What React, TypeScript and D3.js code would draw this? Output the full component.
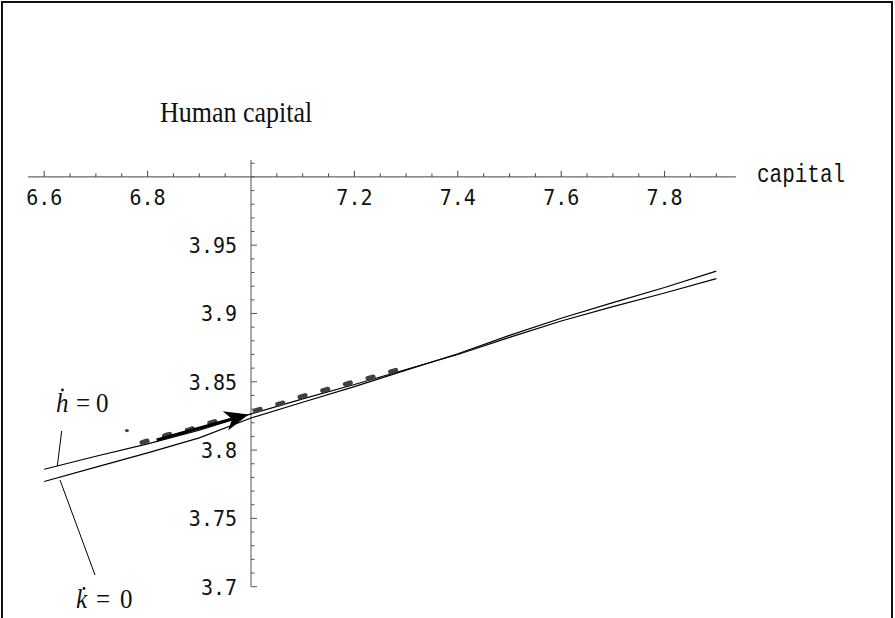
import React from "react";
import * as d3 from "d3";

// h-dot = 0 nullcline (capital, human capital)
const hNullK = [6.6, 6.7, 6.8, 6.9, 7.0, 7.1, 7.2, 7.3, 7.4, 7.5, 7.6, 7.7, 7.8, 7.9];
const hNullH = [3.786, 3.7955, 3.8045, 3.8145, 3.8265, 3.8375, 3.848, 3.859, 3.87, 3.8825, 3.8945, 3.905, 3.915, 3.9255];
// k-dot = 0 nullcline
const kNullK = [6.6, 6.7, 6.8, 6.9, 7.0, 7.1, 7.2, 7.3, 7.4, 7.5, 7.6, 7.7, 7.8, 7.9];
const kNullH = [3.777, 3.7875, 3.798, 3.809, 3.8235, 3.835, 3.8465, 3.8585, 3.8705, 3.884, 3.8965, 3.908, 3.919, 3.931];
// saddle path (dashed)
const pathK = [6.789, 6.8375, 6.88, 6.9265, 7.0135, 7.0594, 7.1012, 7.1431, 7.1882, 7.2335, 7.285];
const pathH = [3.8056, 3.8111, 3.8149, 3.8206, 3.8294, 3.8343, 3.8396, 3.844, 3.8489, 3.8533, 3.859];
// arrow
const arrowK = [6.8176, 6.9952];
const arrowH = [3.8074, 3.8261];
// stray point
const strayK = [6.76];
const strayH = [3.8143];

const xTickValues = [6.6, 6.8, 7.2, 7.4, 7.6, 7.8];
const xTickLabels = ["6.6", "6.8", "7.2", "7.4", "7.6", "7.8"];
const yTickValues = [3.7, 3.75, 3.8, 3.85, 3.9, 3.95];
const yTickLabels = ["3.7", "3.75", "3.8", "3.85", "3.9", "3.95"];

export default function App() {
  const W = 895;
  const H = 618;
  const x = d3.scaleLinear().domain([7.0, 7.8]).range([251, 664.6]);
  const y = d3.scaleLinear().domain([3.7, 4.0]).range([586.7, 176.9]);
  const axisY = y(4.0);
  const axisX = x(7.0);
  const xMin = 6.5687, xMax = 7.938;
  const yMin = 3.7, yMax = 4.0124;

  const line = d3
    .line<[number, number]>()
    .x((d) => x(d[0]))
    .y((d) => y(d[1]));

  const hPts = hNullK.map((k, i) => [k, hNullH[i]] as [number, number]);
  const kPts = kNullK.map((k, i) => [k, kNullH[i]] as [number, number]);
  const pPts = pathK.map((k, i) => [k, pathH[i]] as [number, number]);

  const xMinor = d3.range(6.6, 7.9001, 0.05).filter(
    (v) => !xTickValues.some((t) => Math.abs(t - v) < 1e-6) && Math.abs(v - 7) > 1e-6
  );
  const yMinor = d3.range(3.7, 4.0101, 0.01).filter(
    (v) => !yTickValues.some((t) => Math.abs(t - v) < 1e-6)
  );

  // arrow geometry
  const ax0 = x(arrowK[0]), ay0 = y(arrowH[0]);
  const ax1 = x(arrowK[1]), ay1 = y(arrowH[1]);
  const dx = ax1 - ax0, dy = ay1 - ay0;
  const len = Math.hypot(dx, dy);
  const ux = dx / len, uy = dy / len;
  const px = -uy, py = ux;
  const headLen = 24, headW = 10, notch = 17;
  const bx = ax1 - headLen * ux, by = ay1 - headLen * uy;
  const nx = ax1 - notch * ux, ny = ay1 - notch * uy;
  const head = [
    [ax1, ay1],
    [bx + headW * px, by + headW * py],
    [nx, ny],
    [bx - headW * px, by - headW * py],
  ]
    .map((p) => p.join(","))
    .join(" ");

  const monoFont = "'DejaVu Sans Mono', monospace";
  const serif = "'Liberation Serif', 'Times New Roman', serif";

  const St = (props: { x: number; y: number; sy: number; children: React.ReactNode; [k: string]: any }) => {
    const { x: tx, y: ty, sy, children, ...rest } = props;
    return (
      <text transform={`translate(${tx},${ty}) scale(1,${sy})`} {...rest}>
        {children}
      </text>
    );
  };

  return (
    <svg
      width={W}
      height={H}
      style={{ position: "absolute", left: 0, top: 0, background: "#fff" }}
    >
      <rect x={0} y={0} width={W} height={H} fill="#fff" />
      <rect x={2} y={2} width={890} height={700} fill="none" stroke="#111" strokeWidth={2} />

      {/* axes */}
      <line x1={x(xMin)} x2={x(xMax)} y1={axisY} y2={axisY} stroke="#444" strokeWidth={1} />
      <line x1={axisX} x2={axisX} y1={y(yMax)} y2={y(yMin)} stroke="#555" strokeWidth={1} />

      {/* x ticks */}
      {xTickValues.map((v) => (
        <line key={"xt" + v} x1={x(v)} x2={x(v)} y1={axisY} y2={axisY - 6} stroke="#444" />
      ))}
      {xMinor.map((v) => (
        <line key={"xm" + v} x1={x(v)} x2={x(v)} y1={axisY} y2={axisY - 3.5} stroke="#444" />
      ))}
      {xTickValues.map((v, i) => (
        <St
          key={"xl" + v}
          x={x(v)}
          y={205}
          sy={1.08}
          textAnchor="middle"
          fontFamily={monoFont}
          fontSize={20}
          fill="#111"
        >
          {xTickLabels[i]}
        </St>
      ))}

      {/* y ticks */}
      {yTickValues.map((v) => (
        <line key={"yt" + v} x1={axisX} x2={axisX + 6} y1={y(v)} y2={y(v)} stroke="#555" />
      ))}
      {yMinor.map((v) => (
        <line key={"ym" + v} x1={axisX} x2={axisX + 3.5} y1={y(v)} y2={y(v)} stroke="#555" />
      ))}
      {yTickValues.map((v, i) => (
        <St
          key={"yl" + v}
          x={237}
          y={y(v) + 7.8}
          sy={1.08}
          textAnchor="end"
          fontFamily={monoFont}
          fontSize={20}
          fill="#111"
        >
          {yTickLabels[i]}
        </St>
      ))}

      {/* axis labels */}
      <St x={757} y={181.7} sy={1.22} fontFamily="'Liberation Mono', 'Courier New', monospace" fontSize={21} fill="#111">
        capital
      </St>
      <St x={160} y={122} sy={1.1} fontFamily={serif} fontSize={26} fill="#111">
        Human capital
      </St>

      {/* nullclines */}
      <path d={line(hPts) || ""} fill="none" stroke="#000" strokeWidth={1.2} />
      <path d={line(kPts) || ""} fill="none" stroke="#000" strokeWidth={1.2} />

      {/* saddle path */}
      <path
        d={line(pPts) || ""}
        fill="none"
        stroke="#404040"
        strokeWidth={4.8}
        strokeLinecap="round"
        strokeDasharray="5.5 18"
      />
      {strayK.map((k, i) => (
        <ellipse key={"s" + i} cx={x(k)} cy={y(strayH[i])} rx={2} ry={1.6} fill="#404040" />
      ))}

      {/* arrow */}
      <line x1={ax0} y1={ay0} x2={nx} y2={ny} stroke="#000" strokeWidth={3} />
      <polygon points={head} fill="#000" />

      {/* labels for nullclines */}
      <line x1={61.7} y1={431} x2={57.3} y2={466} stroke="#000" strokeWidth={1} />
      <line x1={60} y1={480} x2={95} y2={575} stroke="#000" strokeWidth={1} />

      <St x={56} y={411.5} sy={1.1} fontFamily={serif} fontSize={25} fontStyle="italic" fill="#111">h</St>
      <circle cx={62.5} cy={390} r={1.4} fill="#111" />
      <St x={76} y={411.5} sy={1.1} fontFamily={serif} fontSize={25} fill="#111">=</St>
      <St x={96} y={411.5} sy={1.1} fontFamily={serif} fontSize={25} fill="#111">0</St>

      <St x={76} y={608} sy={1.1} fontFamily={serif} fontSize={25} fontStyle="italic" fill="#111">k</St>
      <circle cx={84} cy={588.5} r={1.4} fill="#111" />
      <St x={96} y={608} sy={1.1} fontFamily={serif} fontSize={25} fill="#111">=</St>
      <St x={120} y={608} sy={1.1} fontFamily={serif} fontSize={25} fill="#111">0</St>
    </svg>
  );
}
